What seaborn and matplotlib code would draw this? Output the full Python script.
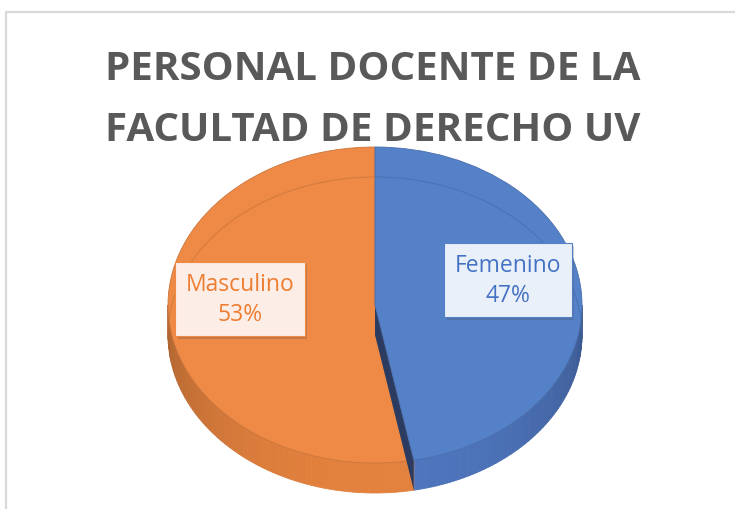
import numpy as np
import matplotlib
matplotlib.use('Agg')
import matplotlib.pyplot as plt
import matplotlib.patheffects as pe
from matplotlib.patches import Polygon
from matplotlib.transforms import Affine2D
from matplotlib.colors import to_rgb
import seaborn as sns

# ---- data ----
labels = ['Femenino', 'Masculino']
shares = [47, 53]
title_lines = ['PERSONAL DOCENTE DE LA', 'FACULTAD DE DERECHO UV']

top_colors = ['#5581C9', '#EE8A45']
side_colors = ['#5078C2', '#E8843F']
text_colors = ['#4472C4', '#ED7D31']
box_colors = ['#EAF0F9', '#FCEEE6']

sns.set_theme(style='white')
plt.rcParams['font.family'] = ['Open Sans', 'DejaVu Sans']

W, H = 735, 510
fig = plt.figure(figsize=(7.35, 5.10), dpi=100)
ax = fig.add_axes([0, 0, 1, 1])

# pie geometry, pixel units with y up
cx, cy = 375, H - 306
rx, ry = 207, 158
depth = 30 / ry
T = Affine2D().scale(rx, ry).translate(cx, cy) + ax.transData

wedges, _ = ax.pie(shares, colors=top_colors, startangle=90, counterclock=False,
                   wedgeprops=dict(linewidth=0.6))
ax.set_aspect('auto')
ax.set_xlim(0, W)
ax.set_ylim(0, H)
ax.axis('off')

for i, w in enumerate(wedges):
    w.set_transform(T)
    w.set_edgecolor(np.array(to_rgb(top_colors[i])) * 0.85)
    w.set_zorder(4 if i == 0 else 2)


# side (depth) of every wedge, only the front half is visible
def draw_side(w, base, n=60):
    lo, hi = max(w.theta1, -180), min(w.theta2, 0)
    if hi <= lo:
        return
    th = np.radians(np.linspace(lo, hi, n + 1))
    for a0, a1 in zip(th[:-1], th[1:]):
        f = 0.74 + 0.24 * (-np.sin((a0 + a1) / 2))
        col = np.clip(np.array(to_rgb(base)) * f, 0, 1)
        pts = [(np.cos(a0), np.sin(a0)), (np.cos(a1), np.sin(a1)),
               (np.cos(a1), np.sin(a1) - depth), (np.cos(a0), np.sin(a0) - depth)]
        ax.add_patch(Polygon(pts, closed=True, fc=col, ec=col, lw=0.6,
                             transform=T, zorder=1))


for i, w in enumerate(wedges):
    draw_side(w, side_colors[i])

# cut face of the first slice, seen in the seam
e = np.radians(wedges[0].theta1)
ax.add_patch(Polygon([(0, 0), (np.cos(e), np.sin(e)), (np.cos(e), np.sin(e) - depth), (0, -depth)],
                     closed=True, fc='#2C3B60', ec='none', transform=T, zorder=3))

# faint rim of the bottom edge seen through the top
for i, w in enumerate(wedges):
    for off in (0, -360):
        lo, hi = max(w.theta1, off), min(w.theta2, off + 180)
        if hi > lo:
            th = np.radians(np.linspace(lo, hi, 80))
            ax.plot(np.cos(th), np.sin(th) - depth, transform=T,
                    color=np.array(to_rgb(top_colors[i])) * 0.82, lw=0.8, alpha=0.6, zorder=5)

# chart area border
ax.plot([6, 6, W + 5], [-5, H - 13, H - 13], color='#D9D9D9', lw=1.6, zorder=0)

# title
for k, line in enumerate(title_lines):
    ax.text(373, H - 80 - 61 * k, line, ha='center', va='baseline', fontsize=29,
            fontweight='bold', color='#595959')

# data labels
label_pos = [(508, H - 281), (240, H - 300)]
for i, (lab, val) in enumerate(zip(labels, shares)):
    t = ax.text(label_pos[i][0], label_pos[i][1], f'{lab}\n{val}%', ha='center', va='center',
                fontsize=16.5, color=text_colors[i], linespacing=1.3, zorder=7,
                bbox=dict(boxstyle='square,pad=0.45', fc=box_colors[i],
                          ec=top_colors[i], lw=0.8))
    t.get_bbox_patch().set_path_effects([pe.SimplePatchShadow(offset=(2, -2), alpha=0.25),
                                         pe.Normal()])

fig.savefig('out.png', dpi=100)
